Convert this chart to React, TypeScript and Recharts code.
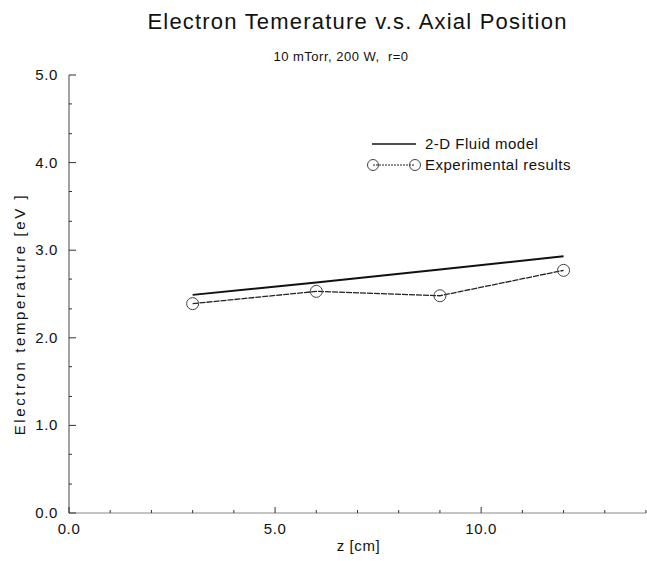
import { LineChart, Line, XAxis, YAxis } from "recharts";

const FONT = '"Liberation Sans", Arial, Helvetica, sans-serif';

// z positions [cm]
const zPositions = [3, 6, 9, 12];
// 2-D fluid model electron temperature [eV]
const modelTe = [2.49, 2.63, 2.78, 2.93];
// measured electron temperature [eV]
const experimentTe = [2.39, 2.53, 2.48, 2.77];

const xTicks = [0, 1, 2, 3, 4, 5, 6, 7, 8, 9, 10, 11, 12, 13, 14];
const xLabelled = [0, 5, 10];
const yTicks = [0, 0.33, 0.67, 1, 1.33, 1.67, 2, 2.33, 2.67, 3, 3.33, 3.67, 4, 4.33, 4.67, 5];
const yLabelled = [0, 1, 2, 3, 4, 5];

const data = zPositions.map((z, i) => ({ z, model: modelTe[i], exp: experimentTe[i] }));

function XTick(props: any) {
    const { x, y, payload } = props;
    const major = xLabelled.includes(payload.value);
    return (
        <g>
            <line x1={x} x2={x} y1={y} y2={y - (major ? 6 : 3)} stroke="#333" strokeWidth={1} />
            {major && (
                <text x={x} y={y + 21} textAnchor="middle" fontSize={15} letterSpacing={0.6} fontFamily={FONT} fill="#111">
                    {payload.value.toFixed(1)}
                </text>
            )}
        </g>
    );
}

function YTick(props: any) {
    const { x, y, payload } = props;
    const major = yLabelled.includes(payload.value);
    return (
        <g>
            <line x1={x} x2={x + (major ? 7 : 3)} y1={y} y2={y} stroke="#333" strokeWidth={1} />
            {major && (
                <text x={x - 11} y={y + 5} textAnchor="end" fontSize={15} letterSpacing={0.6} fontFamily={FONT} fill="#111">
                    {payload.value.toFixed(1)}
                </text>
            )}
        </g>
    );
}

const hollowDot = (props: any) => (
    <circle key={props.index} cx={props.cx} cy={props.cy} r={6} fill="none" stroke="#444" strokeWidth={1} />
);

export default function App() {
    return (
        <div style={{ position: "absolute", left: 0, top: 0, width: 647, height: 561, background: "#fff", fontFamily: FONT }}>
            <div style={{ position: "absolute", left: 0, width: 715, top: 9, textAlign: "center", fontSize: 22, letterSpacing: 1.2, color: "#111" }}>
                Electron Temerature v.s. Axial Position
            </div>
            <div style={{ position: "absolute", left: 0, width: 682, top: 49, textAlign: "center", fontSize: 13, letterSpacing: 0.5, color: "#111", whiteSpace: "pre" }}>
                {"10 mTorr, 200 W,  r=0"}
            </div>
            <div
                style={{
                    position: "absolute",
                    left: 19,
                    top: 314,
                    fontSize: 15,
                    letterSpacing: 2.6,
                    color: "#111",
                    whiteSpace: "nowrap",
                    transform: "translate(-50%, -50%) rotate(-90deg)",
                }}
            >
                Electron temperature [eV ]
            </div>
            <div style={{ position: "absolute", left: 0, width: 717, top: 537, textAlign: "center", fontSize: 15, letterSpacing: 0.6, color: "#111" }}>
                z [cm]
            </div>

            <LineChart width={647} height={561} data={data} margin={{ top: 75, right: 1, bottom: 0, left: 9 }}>
                <XAxis
                    dataKey="z"
                    type="number"
                    domain={[0, 14]}
                    ticks={xTicks}
                    interval={0}
                    tickSize={0}
                    tickMargin={0}
                    tick={<XTick />}
                    axisLine={{ stroke: "#888" }}
                    tickLine={false}
                    height={48}
                />
                <XAxis xAxisId="top" orientation="top" dataKey="z" type="number" domain={[0, 14]} tick={false} tickLine={false} height={0} axisLine={{ stroke: "#999", strokeDasharray: "12 3" }} />
                <YAxis
                    type="number"
                    domain={[0, 5]}
                    ticks={yTicks}
                    interval={0}
                    tickSize={0}
                    tickMargin={0}
                    tick={<YTick />}
                    axisLine={{ stroke: "#444" }}
                    tickLine={false}
                    width={60}
                />
                <YAxis yAxisId="right" orientation="right" type="number" domain={[0, 5]} tick={false} tickLine={false} width={0} axisLine={{ stroke: "#aaa", strokeDasharray: "2 8" }} />
                <Line dataKey="model" stroke="#111" strokeWidth={2} dot={false} isAnimationActive={false} />
                <Line dataKey="exp" stroke="#222" strokeWidth={1.3} strokeDasharray="6 1" dot={hollowDot} isAnimationActive={false} />
            </LineChart>

            <div style={{ position: "absolute", left: 366, top: 133, fontSize: 15, letterSpacing: 0.5, color: "#111" }}>
                <div style={{ display: "flex", alignItems: "center", height: 21 }}>
                    <svg width={56} height={14}>
                        <line x1={6} x2={50} y1={7} y2={7} stroke="#111" strokeWidth={1.5} />
                    </svg>
                    <span style={{ marginLeft: 3 }}>2-D Fluid model</span>
                </div>
                <div style={{ display: "flex", alignItems: "center", height: 21 }}>
                    <svg width={56} height={14}>
                        <line x1={7} x2={49} y1={7} y2={7} stroke="#222" strokeWidth={1} strokeDasharray="2 1" />
                        <circle cx={7} cy={7} r={5.5} fill="none" stroke="#444" />
                        <circle cx={49} cy={7} r={5.5} fill="none" stroke="#444" />
                    </svg>
                    <span style={{ marginLeft: 3 }}>Experimental results</span>
                </div>
            </div>
        </div>
    );
}
